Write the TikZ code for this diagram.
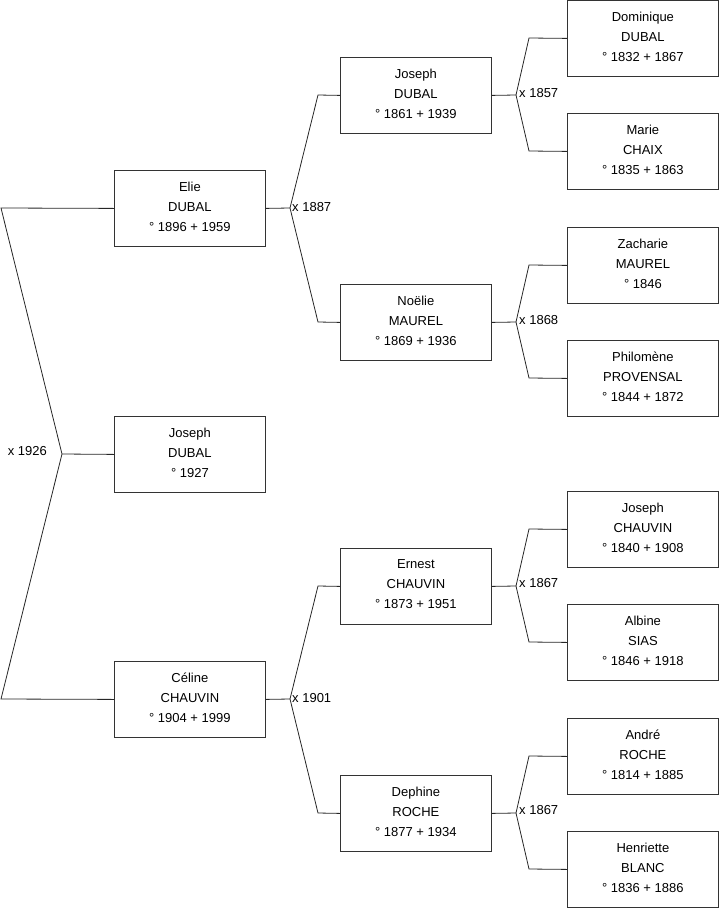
\documentclass[tikz,border=0pt]{standalone}
\usepackage{fontspec}
\setmainfont{Liberation Sans}
\begin{document}
\begin{tikzpicture}[x=1pt,y=-1pt,
  person/.style={draw=black!80, line width=0.8pt, rectangle, anchor=north west,
    minimum width=151pt, minimum height=76pt, inner sep=0pt, align=center,
    font=\fontsize{13}{20}\selectfont,
    execute at end node={\rule[-4pt]{0pt}{4pt}}},
  link/.style={draw=black!85, line width=0.8pt},
  marr/.style={font=\fontsize{13}{15}\selectfont, inner sep=0pt}]
\useasboundingbox (0,0) rectangle (719,908);
% column 1
\node[person] (elie) at (114,170) {Elie\\DUBAL\\° 1896 + 1959};
\node[person] (joseph) at (114,416) {Joseph\\DUBAL\\° 1927};
\node[person] (celine) at (114,661) {Céline\\CHAUVIN\\° 1904 + 1999};
% column 2
\node[person] (josephd) at (340,57) {Joseph\\DUBAL\\° 1861 + 1939};
\node[person] (noelie) at (340,284) {Noëlie\\MAUREL\\° 1869 + 1936};
\node[person] (ernest) at (340,548) {Ernest\\CHAUVIN\\° 1873 + 1951};
\node[person] (dephine) at (340,775) {Dephine\\ROCHE\\° 1877 + 1934};
% column 3
\node[person] (dominique) at (567,0) {Dominique\\DUBAL\\° 1832 + 1867};
\node[person] (marie) at (567,113) {Marie\\CHAIX\\° 1835 + 1863};
\node[person] (zacharie) at (567,227) {Zacharie\\MAUREL\\° 1846};
\node[person] (philomene) at (567,340) {Philomène\\PROVENSAL\\° 1844 + 1872};
\node[person] (josephc) at (567,491) {Joseph\\CHAUVIN\\° 1840 + 1908};
\node[person] (albine) at (567,604) {Albine\\SIAS\\° 1846 + 1918};
\node[person] (andre) at (567,718) {André\\ROCHE\\° 1814 + 1885};
\node[person] (henriette) at (567,831) {Henriette\\BLANC\\° 1836 + 1886};
% 1926
\coordinate (t1) at (1,208);
\coordinate (b1) at (1,699);
\coordinate (m1926) at (62,454);
\draw[link] (elie.west) -- (t1) -- (m1926) -- (b1) -- (celine.west);
\draw[link] (m1926) -- (joseph.west);
\node[marr, anchor=east] (l1926) at (47,451) {x 1926};
% 1887
\coordinate (m1887) at (290,208);
\coordinate (a1887) at (318,95);
\coordinate (c1887) at (318,322);
\draw[link] (elie.east) -- (m1887) -- (a1887) -- (josephd.west);
\draw[link] (m1887) -- (c1887) -- (noelie.west);
\node[marr, anchor=west] (l1887) at (292,207) {x 1887};
% 1901
\coordinate (m1901) at (290,699);
\coordinate (a1901) at (318,586);
\coordinate (c1901) at (318,813);
\draw[link] (celine.east) -- (m1901) -- (a1901) -- (ernest.west);
\draw[link] (m1901) -- (c1901) -- (dephine.west);
\node[marr, anchor=west] (l1901) at (292,698) {x 1901};
% 1857
\coordinate (m1857) at (516,95);
\coordinate (a1857) at (529,38);
\coordinate (c1857) at (529,151);
\draw[link] (josephd.east) -- (m1857) -- (a1857) -- (dominique.west);
\draw[link] (m1857) -- (c1857) -- (marie.west);
\node[marr, anchor=west] (l1857) at (519,93) {x 1857};
% 1868
\coordinate (m1868) at (516,322);
\coordinate (a1868) at (529,265);
\coordinate (c1868) at (529,378);
\draw[link] (noelie.east) -- (m1868) -- (a1868) -- (zacharie.west);
\draw[link] (m1868) -- (c1868) -- (philomene.west);
\node[marr, anchor=west] (l1868) at (519,320) {x 1868};
% 1867 Chauvin
\coordinate (m1867a) at (516,586);
\coordinate (a1867a) at (529,529);
\coordinate (c1867a) at (529,642);
\draw[link] (ernest.east) -- (m1867a) -- (a1867a) -- (josephc.west);
\draw[link] (m1867a) -- (c1867a) -- (albine.west);
\node[marr, anchor=west] (l1867a) at (519,583) {x 1867};
% 1867 Roche
\coordinate (m1867b) at (516,813);
\coordinate (a1867b) at (529,756);
\coordinate (c1867b) at (529,869);
\draw[link] (dephine.east) -- (m1867b) -- (a1867b) -- (andre.west);
\draw[link] (m1867b) -- (c1867b) -- (henriette.west);
\node[marr, anchor=west] (l1867b) at (519,810) {x 1867};
\end{tikzpicture}
\end{document}
